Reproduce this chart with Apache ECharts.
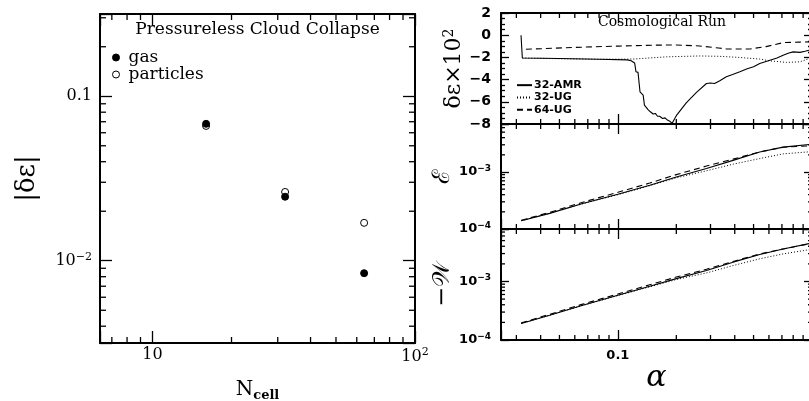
<!DOCTYPE html>
<html><head><meta charset="utf-8">
<script src="https://cdn.jsdelivr.net/npm/echarts@6/dist/echarts.min.js"></script>
<style>html,body{margin:0;padding:0;background:#fff}#c{width:809px;height:401px}</style>
</head><body><div id="c"></div>
<script>
// ---------------- Data ----------------
// Left panel: pressureless cloud collapse
const cloudN = [16, 32, 64];
const cloudGas = [0.068, 0.0245, 0.0084];
const cloudParticles = [0.066, 0.0262, 0.0170];

// Right top: delta epsilon x 10^2 vs a
const amrA  = [0.0317, 0.0322, 0.050, 0.080, 0.112, 0.117, 0.122, 0.124, 0.127, 0.129, 0.130, 0.133, 0.135, 0.137, 0.140, 0.143, 0.147, 0.152, 0.156, 0.160, 0.164, 0.170, 0.175, 0.180, 0.185, 0.190, 0.200, 0.225, 0.254, 0.286, 0.300, 0.315, 0.335, 0.362, 0.390, 0.425, 0.460, 0.500, 0.538, 0.607, 0.660, 0.710, 0.760, 0.800, 0.867, 0.920, 0.970];
const amrDE = [0.00, -2.05, -2.10, -2.17, -2.22, -2.30, -2.50, -3.30, -3.35, -3.40, -5.10, -5.25, -5.40, -6.30, -6.45, -6.70, -6.90, -7.10, -7.05, -7.30, -7.30, -7.50, -7.45, -7.65, -7.75, -7.95, -7.25, -6.10, -5.15, -4.35, -4.30, -4.35, -4.10, -3.75, -3.55, -3.30, -3.05, -2.85, -2.55, -2.25, -2.05, -1.80, -1.60, -1.50, -1.55, -1.45, -1.35];
const ug32A  = [0.0322, 0.050, 0.080, 0.120, 0.178, 0.263, 0.330, 0.420, 0.538, 0.600, 0.740, 0.867, 0.970];
const ug32DE = [-2.05, -2.12, -2.17, -2.15, -1.95, -1.87, -1.90, -2.00, -2.15, -2.30, -2.45, -2.40, -2.10];
const ug64A  = [0.0336, 0.060, 0.100, 0.150, 0.200, 0.263, 0.330, 0.362, 0.480, 0.580, 0.710, 0.860, 0.970];
const ug64DE = [-1.27, -1.10, -0.98, -0.90, -0.88, -0.97, -1.15, -1.24, -1.24, -1.03, -0.67, -0.62, -0.60];

// Right middle / bottom: energies vs a
const growthA = [0.0318, 0.0445, 0.0659, 0.100, 0.146, 0.200, 0.286, 0.392, 0.538, 0.710, 0.970];
const amrE  = [1.40e-4, 1.88e-4, 2.80e-4, 4.08e-4, 5.86e-4, 8.20e-4, 1.15e-3, 1.60e-3, 2.24e-3, 2.73e-3, 3.05e-3];
const ug32E = [1.40e-4, 1.88e-4, 2.78e-4, 4.00e-4, 5.75e-4, 7.90e-4, 1.05e-3, 1.37e-3, 1.72e-3, 2.08e-3, 2.26e-3];
const ug64E = [1.42e-4, 1.96e-4, 2.95e-4, 4.40e-4, 6.40e-4, 9.00e-4, 1.27e-3, 1.68e-3, 2.25e-3, 2.72e-3, 2.88e-3];
const amrW  = [1.92e-4, 2.65e-4, 3.93e-4, 5.80e-4, 8.30e-4, 1.12e-3, 1.54e-3, 2.14e-3, 2.90e-3, 3.60e-3, 4.45e-3];
const ug32W = [1.92e-4, 2.65e-4, 3.90e-4, 5.75e-4, 8.10e-4, 1.08e-3, 1.40e-3, 1.87e-3, 2.44e-3, 2.96e-3, 3.50e-3];
const ug64W = [1.96e-4, 2.75e-4, 4.10e-4, 6.10e-4, 8.80e-4, 1.19e-3, 1.62e-3, 2.20e-3, 2.95e-3, 3.60e-3, 4.40e-3];

// Tick values
const leftXMajor = [10, 100];
const leftXMinor = [7, 8, 9, 20, 30, 40, 50, 60, 70, 80, 90];
const leftYMajor = [0.01, 0.1];
const leftYMinor = [0.004, 0.005, 0.006, 0.007, 0.008, 0.009, 0.02, 0.03, 0.04, 0.05, 0.06, 0.07, 0.08, 0.09, 0.2, 0.3];
const rightXMajor = [0.1, 1];
const rightXMinor = [0.03, 0.04, 0.05, 0.06, 0.07, 0.08, 0.09, 0.2, 0.3, 0.4, 0.5, 0.6, 0.7, 0.8, 0.9];
const rightYMajor = [0.0001, 0.001];
const rightYMinor = [0.0002, 0.0003, 0.0004, 0.0005, 0.0006, 0.0007, 0.0008, 0.0009, 0.002, 0.003, 0.004, 0.005, 0.006, 0.007];
const leftLegend = ['gas', 'particles'];
const rightLegend = ['32-AMR', '32-UG', '64-UG'];

// ---------------- Chart ----------------
const BLACK = '#000';
const SERIF = 'DejaVu Serif';
const SANS = 'DejaVu Sans';
const zip = (a, b) => a.map((v, i) => [v, b[i]]);
const expOf = v => Math.round(Math.log10(v));
const minus = s => String(s).replace('-', '\u2212');

const xAxes = [], yAxes = [];
function addAxis(list, base, majors, majLen, label, extra) {
  list.push(Object.assign({}, base, {
    axisLine: {show: true, onZero: false, lineStyle: {color: BLACK, width: 2}},
    axisTick: {show: true, inside: true, length: majLen, lineStyle: {color: BLACK, width: 1.3}},
    axisLabel: label ? Object.assign({show: true, customValues: majors, color: BLACK, showMinLabel: true, showMaxLabel: true, hideOverlap: false}, label) : {show: false},
    splitLine: {show: false}, minorTick: {show: false}, minorSplitLine: {show: false}
  }, extra || {}));
  return list.length - 1;
}

const leftRich = {
  b: {fontFamily: SERIF, fontSize: 16, color: BLACK},
  s: {fontFamily: SERIF, fontSize: 11, color: BLACK, padding: [0, 0, 8, 0]}
};
const rightRich = {
  b: {fontFamily: SANS, fontSize: 13, fontWeight: 'bold', color: BLACK},
  s: {fontFamily: SANS, fontSize: 9, fontWeight: 'bold', color: BLACK, padding: [0, 0, 7, 0]}
};

// ---- Left grid (0)
const lxMin = Math.pow(10, 0.8), lxMax = 100;
const lyMin = Math.pow(10, -2.5), lyMax = Math.pow(10, -0.5);
const lx = addAxis(xAxes, {type: 'log', gridIndex: 0, position: 'bottom', min: lxMin, max: lxMax}, leftXMajor, 12,
  {margin: 4, rich: leftRich, formatter: v => expOf(v) === 1 ? '{b|10}' : '{b|10}{s|' + expOf(v) + '}'},
  {name: '{n|N}{s|cell}', nameLocation: 'middle', nameGap: 34,
   nameTextStyle: {rich: {n: {fontFamily: SERIF, fontSize: 20, color: BLACK}, s: {fontFamily: SERIF, fontSize: 13, fontWeight: 'bold', color: BLACK, padding: [12, 0, 0, 0]}}}});
addAxis(xAxes, {type: 'log', gridIndex: 0, position: 'top', min: lxMin, max: lxMax}, leftXMajor, 12, null);
const ly = addAxis(yAxes, {type: 'log', gridIndex: 0, position: 'left', min: lyMin, max: lyMax}, leftYMajor, 12,
  {margin: 8, rich: leftRich, formatter: v => expOf(v) === -1 ? '{b|0.1}' : '{b|10}{s|' + minus(expOf(v)) + '}'},
  {name: '|\u03b4\u03b5|', nameLocation: 'middle', nameRotate: 90, nameGap: 60,
   nameTextStyle: {fontFamily: SERIF, fontSize: 26, color: BLACK}});
addAxis(yAxes, {type: 'log', gridIndex: 0, position: 'right', min: lyMin, max: lyMax}, leftYMajor, 12, null);

// ---- Right grids (1,2,3)
const rxMin = 0.025, rxMax = 1;
const rx = [];
for (let g = 1; g <= 3; g++) {
  const lab = g === 3 ? {margin: 9, rich: rightRich, customValues: [0.1], formatter: v => '{b|' + v + '}'} : null;
  const nm = g === 3 ? {name: '\u03b1', nameLocation: 'middle', nameGap: 16,
    nameTextStyle: {fontFamily: SERIF, fontStyle: 'italic', fontSize: 30, color: BLACK}} : null;
  rx.push(addAxis(xAxes, {type: 'log', gridIndex: g, position: 'bottom', min: rxMin, max: rxMax}, rightXMajor, 10, lab, nm));
  addAxis(xAxes, {type: 'log', gridIndex: g, position: 'top', min: rxMin, max: rxMax}, rightXMajor, 10, null);
}

// top-right y (value)
function deAxis(pos, withLabel) {
  return {
    type: 'value', gridIndex: 1, position: pos, min: -8, max: 2, interval: 2,
    axisLine: {show: true, onZero: false, lineStyle: {color: BLACK, width: 2}},
    axisTick: {show: true, inside: true, length: 8, lineStyle: {color: BLACK, width: 1.3}},
    minorTick: {show: true, splitNumber: 4, length: 4, lineStyle: {color: BLACK, width: 1.3}},
    splitLine: {show: false}, minorSplitLine: {show: false},
    axisLabel: withLabel ? {show: true, margin: 10, color: BLACK, fontFamily: SANS, fontWeight: 'bold', fontSize: 14,
      showMinLabel: true, showMaxLabel: true, formatter: v => minus(v)} : {show: false}
  };
}
yAxes.push(Object.assign(deAxis('left', true), {
  name: '{m|\u03b4\u03b5\u00d710}{s|2}', nameLocation: 'middle', nameRotate: 90, nameGap: 34,
  nameTextStyle: {rich: {m: {fontFamily: SERIF, fontSize: 22, color: BLACK}, s: {fontFamily: SERIF, fontSize: 14, color: BLACK, padding: [0, 0, 10, 0]}}}
}));
const ryDE = yAxes.length - 1;
yAxes.push(deAxis('right', false));

const eMax = Math.pow(10, -2.158), wMax = Math.pow(10, -2.103);
const eLabel = {margin: 10, rich: rightRich, formatter: v => '{b|10}{s|' + minus(expOf(v)) + '}'};
const ryE = addAxis(yAxes, {type: 'log', gridIndex: 2, position: 'left', min: 1e-4, max: eMax}, rightYMajor, 8, eLabel,
  {name: '\u2130', nameLocation: 'middle', nameRotate: 90, nameGap: 40,
   nameTextStyle: {fontFamily: SERIF, fontSize: 24, color: BLACK}});
addAxis(yAxes, {type: 'log', gridIndex: 2, position: 'right', min: 1e-4, max: eMax}, rightYMajor, 8, null);
const ryW = addAxis(yAxes, {type: 'log', gridIndex: 3, position: 'left', min: 1e-4, max: wMax}, rightYMajor, 8, eLabel,
  {name: '\u2212\ud835\udcb2', nameLocation: 'middle', nameRotate: 90, nameGap: 40,
   nameTextStyle: {fontFamily: SERIF, fontSize: 24, color: BLACK}});
addAxis(yAxes, {type: 'log', gridIndex: 3, position: 'right', min: 1e-4, max: wMax}, rightYMajor, 8, null);

const lineStyles = {
  '32-AMR': {color: BLACK, width: 1.1, type: 'solid'},
  '32-UG': {color: BLACK, width: 1, type: [1, 2]},
  '64-UG': {color: BLACK, width: 1.1, type: [6, 4]}
};
function lineSeries(name, xs, ys, xi, yi) {
  return {type: 'line', name, data: zip(xs, ys), xAxisIndex: xi, yAxisIndex: yi,
    symbol: 'none', showSymbol: false, lineStyle: lineStyles[name], itemStyle: {color: BLACK},
    silent: true, animation: false, clip: true};
}

// Minor log ticks: tiny rect symbols placed through the axes' own scales
function minorTicks(xi, yi, side, values, edge, len) {
  const horiz = side === 'bottom' || side === 'top';
  const data = values.map(v => horiz ? [v, edge] : [edge, v]);
  const off = {bottom: [0, -len / 2], top: [0, len / 2], left: [len / 2, 0], right: [-len / 2, 0]}[side];
  return {
    type: 'scatter', xAxisIndex: xi, yAxisIndex: yi, data,
    symbol: 'rect', symbolSize: horiz ? [1.3, len] : [len, 1.3], symbolOffset: off,
    itemStyle: {color: BLACK, opacity: 1}, silent: true, animation: false, clip: false, z: 5
  };
}

const series = [
  {type: 'scatter', name: 'particles', data: zip(cloudN, cloudParticles), xAxisIndex: lx, yAxisIndex: ly,
   symbol: 'circle', symbolSize: 7, itemStyle: {color: '#fff', borderColor: BLACK, borderWidth: 1, opacity: 1}, silent: true, animation: false},
  {type: 'scatter', name: 'gas', data: zip(cloudN, cloudGas), xAxisIndex: lx, yAxisIndex: ly,
   symbol: 'circle', symbolSize: 7, itemStyle: {color: BLACK, borderColor: BLACK, borderWidth: 1, opacity: 1}, silent: true, animation: false},
  lineSeries('32-UG', ug32A, ug32DE, rx[0], ryDE),
  lineSeries('64-UG', ug64A, ug64DE, rx[0], ryDE),
  lineSeries('32-AMR', amrA, amrDE, rx[0], ryDE),
  lineSeries('32-UG', growthA, ug32E, rx[1], ryE),
  lineSeries('64-UG', growthA, ug64E, rx[1], ryE),
  lineSeries('32-AMR', growthA, amrE, rx[1], ryE),
  lineSeries('32-UG', growthA, ug32W, rx[2], ryW),
  lineSeries('64-UG', growthA, ug64W, rx[2], ryW),
  lineSeries('32-AMR', growthA, amrW, rx[2], ryW),
  minorTicks(lx, ly, 'bottom', leftXMinor, lyMin, 6),
  minorTicks(lx, ly, 'top', leftXMinor, lyMax, 6),
  minorTicks(lx, ly, 'left', leftYMinor, lxMin, 6),
  minorTicks(lx, ly, 'right', leftYMinor, lxMax, 6),
  minorTicks(rx[0], ryDE, 'bottom', rightXMinor, -8, 5),
  minorTicks(rx[0], ryDE, 'top', rightXMinor, 2, 5),
  minorTicks(rx[1], ryE, 'bottom', rightXMinor, 1e-4, 5),
  minorTicks(rx[1], ryE, 'top', rightXMinor, eMax, 5),
  minorTicks(rx[1], ryE, 'left', rightYMinor, rxMin, 4),
  minorTicks(rx[1], ryE, 'right', rightYMinor, rxMax, 4),
  minorTicks(rx[2], ryW, 'bottom', rightXMinor, 1e-4, 5),
  minorTicks(rx[2], ryW, 'top', rightXMinor, wMax, 5),
  minorTicks(rx[2], ryW, 'left', rightYMinor, rxMin, 4),
  minorTicks(rx[2], ryW, 'right', rightYMinor, rxMax, 4)
];

const chart = echarts.init(document.getElementById('c'), null, {renderer: 'canvas', width: 809, height: 401});
chart.setOption({
  backgroundColor: '#fff',
  animation: false,
  grid: [
    {left: 100, top: 14, width: 315, height: 329, outerBoundsMode: 'none', containLabel: false},
    {left: 501, top: 13, width: 311, height: 111, outerBoundsMode: 'none', containLabel: false},
    {left: 501, top: 124, width: 311, height: 105, outerBoundsMode: 'none', containLabel: false},
    {left: 501, top: 229, width: 311, height: 111, outerBoundsMode: 'none', containLabel: false}
  ],
  title: [
    {text: 'Pressureless Cloud Collapse', left: 257.5, top: 21, textAlign: 'center', padding: 0,
     textStyle: {fontFamily: SERIF, fontWeight: 'normal', fontSize: 17, color: BLACK}},
    {text: 'Cosmological Run', left: 662, top: 15, textAlign: 'center', padding: 0,
     textStyle: {fontFamily: SERIF, fontWeight: 'normal', fontSize: 14, color: BLACK}}
  ],
  legend: [
    {data: leftLegend, orient: 'vertical', left: 112, top: 49, padding: 0, itemWidth: 7, itemHeight: 7, itemGap: 0,
     selectedMode: false, itemStyle: {borderWidth: 1, opacity: 1},
     textStyle: {fontFamily: SERIF, fontSize: 17, color: BLACK, lineHeight: 16, padding: [0, 0, 0, 4]}},
    {data: rightLegend, orient: 'vertical', left: 516, top: 79, padding: 0, itemWidth: 15, itemHeight: 10, itemGap: 0,
     selectedMode: false, itemStyle: {opacity: 0},
     textStyle: {fontFamily: SANS, fontWeight: 'bold', fontSize: 11, color: BLACK, lineHeight: 12.3, padding: [0, 0, 0, -3]}}
  ],
  xAxis: xAxes,
  yAxis: yAxes,
  series
});
</script>
</body></html>
